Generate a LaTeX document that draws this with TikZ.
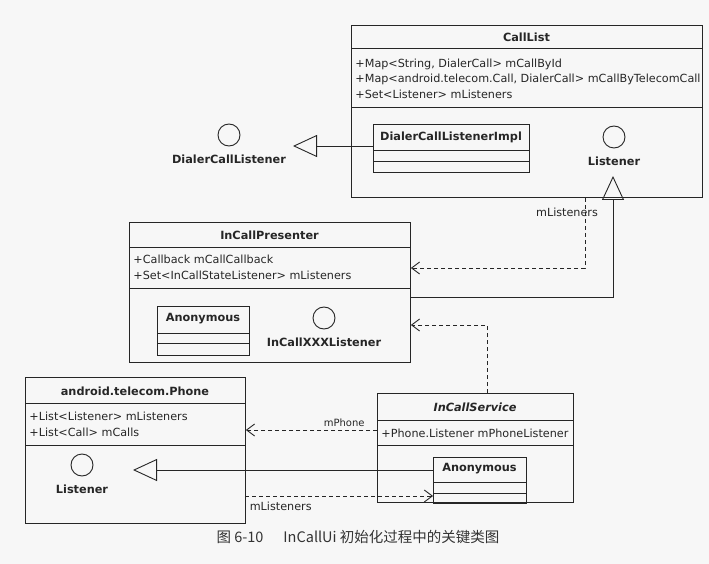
\documentclass[tikz,border=0pt]{standalone}
\usepackage{fontspec}
\setmainfont{DejaVu Sans}
\newfontfamily\cjkfont{Noto Sans CJK SC}
\usetikzlibrary{arrows.meta}

\begin{document}
\begin{tikzpicture}[
        x=1pt, y=-1pt,
        color=black!85, line width=0.9pt,
        classbox/.style = {rectangle, draw, anchor=north west, inner sep=0pt, node contents={}},
        iface/.style = {circle, draw, minimum size=22pt, inner sep=0pt, node contents={}},
        title/.style = {font=\bfseries\fontsize{11.3}{13}\selectfont, inner sep=0pt},
        attr/.style = {font=\fontsize{11.2}{15.5}\selectfont, align=left, anchor=west, inner sep=0pt},
        tag/.style = {font=\fontsize{11.2}{13}\selectfont, inner sep=2pt},
        realize/.style = {-{Triangle[open, length=24pt, width=22pt]}},
        depend/.style = {dash pattern=on 4pt off 3pt, -{Straight Barb[length=8pt, width=12pt]}},
        every label/.style = {title, label distance=8pt}
        ]

        \fill[black!3] (0,0) rectangle (709,564);

        % CallList
        \node (calllist) at (351,25) [classbox, minimum width=351pt, minimum height=172pt];
        \draw ([yshift=-23pt]calllist.north west) -- ([yshift=-23pt]calllist.north east);
        \draw ([yshift=-82pt]calllist.north west) -- ([yshift=-82pt]calllist.north east);
        \node (calllisttitle) at (526.5,37) [title] {CallList};
        \node (calllistattr) at (355,78.5) [attr] {+Map<String, DialerCall> mCallById\\+Map<android.telecom.Call, DialerCall> mCallByTelecomCall\\+Set<Listener> mListeners};

        \node (dcimpl) at (373,124) [classbox, minimum width=156pt, minimum height=48pt];
        \draw ([yshift=-26pt]dcimpl.north west) -- ([yshift=-26pt]dcimpl.north east);
        \draw ([yshift=-37pt]dcimpl.north west) -- ([yshift=-37pt]dcimpl.north east);
        \node (dcimpltitle) at (451,137) [title] {DialerCallListenerImpl};
        \node (listener) at (614,137) [iface, label=below:Listener];

        \node (dclistener) at (229,135) [iface, label=below:DialerCallListener];

        % InCallPresenter
        \node (presenter) at (129,222) [classbox, minimum width=281pt, minimum height=140pt];
        \draw ([yshift=-25pt]presenter.north west) -- ([yshift=-25pt]presenter.north east);
        \draw ([yshift=-66pt]presenter.north west) -- ([yshift=-66pt]presenter.north east);
        \node (presentertitle) at (269.5,235) [title] {InCallPresenter};
        \node (presenterattr) at (133,267.5) [attr] {+Callback mCallCallback\\+Set<InCallStateListener> mListeners};

        \node (anon1) at (157,306) [classbox, minimum width=92pt, minimum height=49pt];
        \draw ([yshift=-27pt]anon1.north west) -- ([yshift=-27pt]anon1.north east);
        \draw ([yshift=-37pt]anon1.north west) -- ([yshift=-37pt]anon1.north east);
        \node (anon1title) at (203,319) [title] {Anonymous};
        \node (xxxlistener) at (324,318) [iface, label=below:InCallXXXListener];

        % android.telecom.Phone
        \node (phone) at (25,377) [classbox, minimum width=220pt, minimum height=146pt];
        \draw ([yshift=-26pt]phone.north west) -- ([yshift=-26pt]phone.north east);
        \draw ([yshift=-68pt]phone.north west) -- ([yshift=-68pt]phone.north east);
        \node (phonetitle) at (135,391) [title] {android.telecom.Phone};
        \node (phoneattr) at (29,424.5) [attr] {+List<Listener> mListeners\\+List<Call> mCalls};
        \node (phonelistener) at (82,465) [iface, label=below:Listener];

        % InCallService
        \node (service) at (377,393) [classbox, minimum width=196pt, minimum height=109pt];
        \draw ([yshift=-27pt]service.north west) -- ([yshift=-27pt]service.north east);
        \draw ([yshift=-52pt]service.north west) -- ([yshift=-52pt]service.north east);
        \node (servicetitle) at (475,407) [title] {\itshape InCallService};
        \node (serviceattr) at (381,433) [attr] {+Phone.Listener mPhoneListener};

        \node (anon2) at (433,457) [classbox, minimum width=93pt, minimum height=46pt];
        \draw ([yshift=-25pt]anon2.north west) -- ([yshift=-25pt]anon2.north east);
        \draw ([yshift=-36pt]anon2.north west) -- ([yshift=-36pt]anon2.north east);
        \node (anon2title) at (479.5,469) [title] {Anonymous};

        \coordinate (dctip) at (293,146);
        \coordinate (lsttip) at (613,176);
        \coordinate (lstbend) at (613,297);
        \coordinate (cbbend) at (585,268);
        \coordinate (svbend) at (487,325);
        \coordinate (phtip) at (133,470);
        \coordinate (phonelink) at (377,430);
        \coordinate (cblink) at (245,496);

        \draw[realize] (dcimpl.west |- dctip) -- (dctip);
        \draw[realize] (presenter.east |- lstbend) -- (lstbend) -- (lsttip);
        \draw[depend] (calllist.south -| cbbend) -- (cbbend) -- (presenter.east |- cbbend);
        \node (cblabel) at (567,212) [tag] {mListeners};
        \draw[depend] (service.north -| svbend) -- (svbend) -- (presenter.east |- svbend);

        \draw[depend] (phonelink) -- (phonelink -| phone.east) node[near start, above] (mphonelabel) {mPhone};
        \draw[realize] (anon2.west |- phtip) -- (phtip);
        \draw[depend] (cblink) -- (cblink -| anon2.west) node[pos=0.19, below=4pt, tag] (mlistlabel) {mListeners};

        \node (caption) at (358,537) [font=\cjkfont\fontsize{14.5}{17}\selectfont, color=black!80] {图 6-10\hspace{20pt}InCallUi 初始化过程中的关键类图};
    \end{tikzpicture}
\end{document}
